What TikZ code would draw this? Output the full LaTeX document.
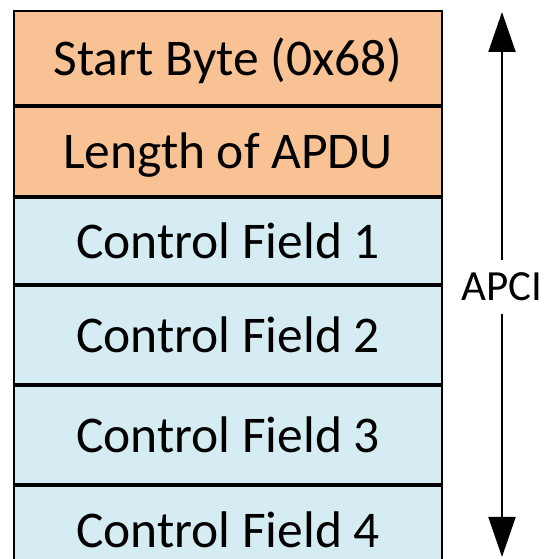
\documentclass[tikz,border=0pt]{standalone}
\usepackage{fontspec}
\setmainfont{Carlito}
\usetikzlibrary{arrows.meta}
\definecolor{hdrfill}{HTML}{F9C295}
\definecolor{ctlfill}{HTML}{D6ECF3}
\tikzset{
  field/.style={draw=black, line width=2pt, minimum width=428pt, inner sep=0pt,
    anchor=north west, text height=35pt, text depth=0pt,
    font=\fontsize{51.5}{58}\selectfont},
  hdr/.style={field, fill=hdrfill},
  ctl/.style={field, fill=ctlfill},
  span/.style={line width=2pt, -{Triangle[length=40pt,width=27pt]}},
}
\begin{document}
\begin{tikzpicture}[x=1pt,y=1pt]
  \useasboundingbox (0,0) rectangle (544,559);
  \clip (0,0) rectangle (544,559);
  % frame fields, top to bottom
  \node[hdr, minimum height=94pt] (start) at (13,549) {Start Byte (0x68)};
  \node[hdr, minimum height=89pt] (len) at (start.south west) {Length of APDU};
  \node[ctl, minimum height=86pt] (c1) at (len.south west) {Control Field 1};
  \node[ctl, minimum height=98pt] (c2) at (c1.south west) {Control Field 2};
  \node[ctl, minimum height=98pt] (c3) at (c2.south west) {Control Field 3};
  \node[ctl, minimum height=88pt] (c4) at (c3.south west) {Control Field 4};
  % APCI extent marker
  \node[inner sep=0pt, minimum height=53pt, font=\fontsize{43}{49}\selectfont]
    (apci) at (502,272) {APCI};
  \coordinate (top) at (502,547);
  \coordinate (bot) at (502,2);
  \draw[span] (apci.north) -- (top);
  \draw[span] (apci.south) -- (bot);
\end{tikzpicture}
\end{document}
